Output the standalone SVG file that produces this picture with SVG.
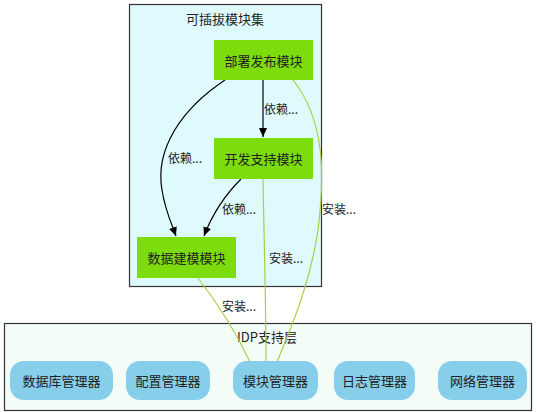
<svg xmlns="http://www.w3.org/2000/svg" width="536" height="412" viewBox="0 0 536 412">
<defs>
<style>
text{font-family:"Noto Sans CJK SC","Liberation Sans",sans-serif;font-size:13px;fill:#222;text-anchor:middle;dominant-baseline:central}
.lbl{font-size:12px;text-anchor:start}
.cl{stroke:#333;stroke-width:1.2}
.g rect{fill:#7ddc0c}
.m rect{fill:#87ceeb}
.dep{fill:none;stroke:#000;stroke-width:1.2;marker-end:url(#ah)}
.ins{fill:none;stroke:#a8d040;stroke-width:1.2}
</style>
<marker id="ah" markerWidth="10" markerHeight="10" refX="9" refY="5" orient="auto" markerUnits="userSpaceOnUse"><path d="M0,1 L9,5 L0,9 z" fill="#000"/></marker>
</defs>
<rect width="536" height="412" fill="#fff"/>
<g id="cluster_plugins">
<rect class="cl" x="129.5" y="4.5" width="192" height="282" fill="#dffafd"/>
<text x="225" y="18">可插拔模块集</text>
</g>
<g id="cluster_idp">
<rect class="cl" x="4.5" y="323.5" width="527" height="87" fill="#f4fcf8"/>
<text x="267" y="336">IDP支持层</text>
</g>
<g id="edges">
<path class="dep" d="M263,80 L263,137"/>
<text class="lbl" x="264" y="108">依赖...</text>
<path class="dep" d="M225,80 C180,110 155,150 162,190 C165,210 172,225 176,236"/>
<text class="lbl" x="168" y="157">依赖...</text>
<path class="dep" d="M241,179 C225,195 212,215 204,236"/>
<text class="lbl" x="222" y="208">依赖...</text>
<path class="ins" d="M198,278 C215,300 235,330 250,362"/>
<text class="lbl" x="222" y="305">安装...</text>
<path class="ins" d="M263,179 C264,240 266,300 266,362"/>
<text class="lbl" x="269" y="257">安装...</text>
<path class="ins" d="M293,80 C325,120 325,175 318,230 C310,285 290,330 277,362"/>
<text class="lbl" x="322" y="208">安装...</text>
</g>
<g id="n_deploy" class="g"><rect x="214" y="40" width="99" height="40"/><text x="263.5" y="60">部署发布模块</text></g>
<g id="n_devsupport" class="g"><rect x="214" y="138" width="99" height="41"/><text x="263.5" y="158.5">开发支持模块</text></g>
<g id="n_datamodel" class="g"><rect x="137" y="237" width="99" height="41"/><text x="186.5" y="257.5">数据建模模块</text></g>
<g id="n_dbmgr" class="m"><rect x="10" y="361" width="103" height="39" rx="14"/><text x="61.5" y="380.5">数据库管理器</text></g>
<g id="n_cfgmgr" class="m"><rect x="126" y="361" width="84" height="39" rx="14"/><text x="168" y="380.5">配置管理器</text></g>
<g id="n_modmgr" class="m"><rect x="233" y="361" width="85" height="39" rx="14"/><text x="275.5" y="380.5">模块管理器</text></g>
<g id="n_logmgr" class="m"><rect x="334" y="361" width="81" height="39" rx="14"/><text x="374.5" y="380.5">日志管理器</text></g>
<g id="n_netmgr" class="m"><rect x="438" y="361" width="89" height="39" rx="14"/><text x="482.5" y="380.5">网络管理器</text></g>
</svg>
